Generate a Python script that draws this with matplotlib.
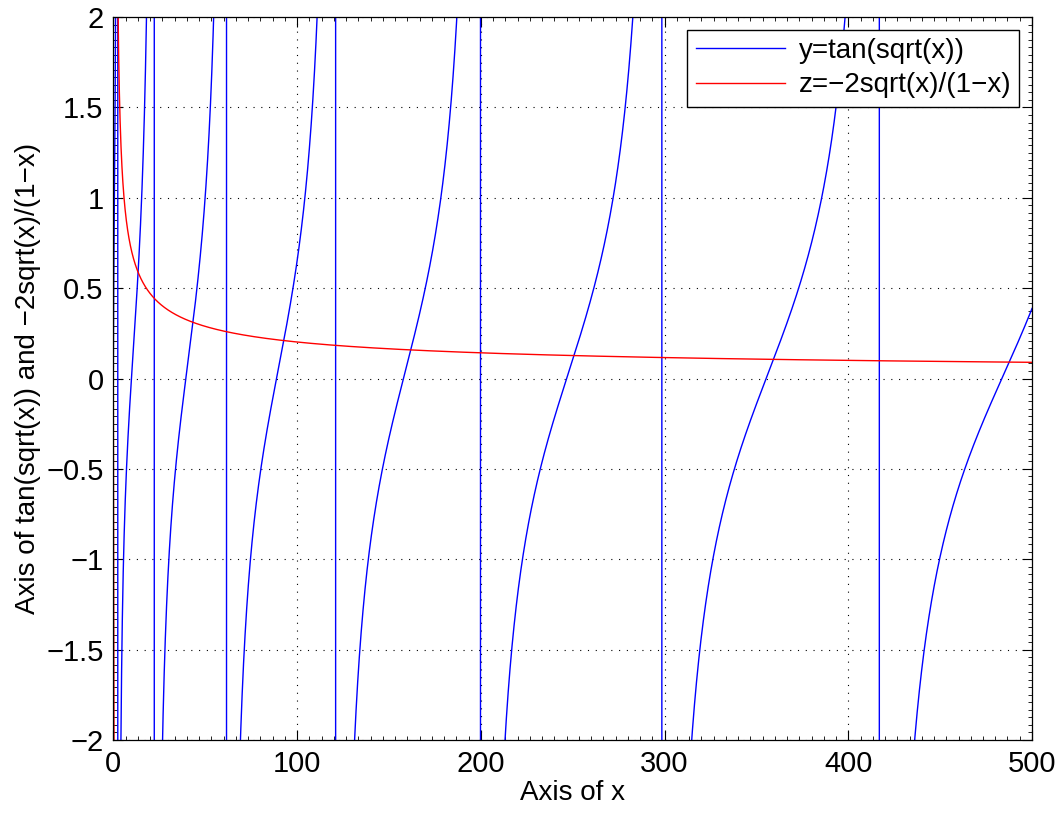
import numpy as np
import matplotlib
matplotlib.use("Agg")
import matplotlib.pyplot as plt
from matplotlib.ticker import AutoMinorLocator

# sample grid and the two functions named in the legend
x = np.arange(0, 500.05, 0.1)
y_tan = np.tan(np.sqrt(x))
with np.errstate(divide="ignore", invalid="ignore"):
    z_rat = -2 * np.sqrt(x) / (1 - x)

x_ticks = [0, 100, 200, 300, 400, 500]
y_ticks = [-2, -1.5, -1, -0.5, 0, 0.5, 1, 1.5, 2]
y_tick_labels = ["\u22122", "\u22121.5", "\u22121", "\u22120.5", "0", "0.5", "1", "1.5", "2"]
legend_labels = ["y=tan(sqrt(x))", "z=\u22122sqrt(x)/(1\u2212x)"]

plt.rcParams['font.family'] = ['Liberation Sans', 'DejaVu Sans']

fig = plt.figure(figsize=(10.59, 8.14), dpi=100)
ax = fig.add_axes([0.107, 0.091, 0.8675, 0.888])

ax.plot(x, y_tan, color="#0000ff", lw=1.0, label=legend_labels[0])
ax.plot(x, z_rat, color="#ff0000", lw=1.0, label=legend_labels[1])

ax.set_xlim(0, 500)
ax.set_ylim(-2, 2)
ax.set_xticks(x_ticks)
ax.set_yticks(y_ticks)
ax.set_yticklabels(y_tick_labels)
ax.xaxis.set_minor_locator(AutoMinorLocator(15))
ax.yaxis.set_minor_locator(AutoMinorLocator(12))

ax.tick_params(which="both", direction="in", top=True, right=True, labelsize=21, width=0.8)
ax.tick_params(which="major", length=7, pad=7)
ax.tick_params(which="minor", length=3, width=0.6)

ax.grid(True, which="major", color="black", linestyle=(0, (1, 6)), linewidth=0.8)
for s in ax.spines.values():
    s.set_linewidth(0.9)

ax.set_xlabel("Axis of x", fontsize=20, labelpad=2)
ax.set_ylabel("Axis of tan(sqrt(x)) and \u22122sqrt(x)/(1\u2212x)", fontsize=20, labelpad=4)

leg = ax.legend(loc="upper right", fontsize=20, handlelength=3.2, borderaxespad=0.45,
                fancybox=False, framealpha=1, edgecolor="black", borderpad=0.3,
                labelspacing=0.3, handletextpad=0.5)
leg.get_frame().set_linewidth(1.0)

fig.savefig("out.png", dpi=100)
